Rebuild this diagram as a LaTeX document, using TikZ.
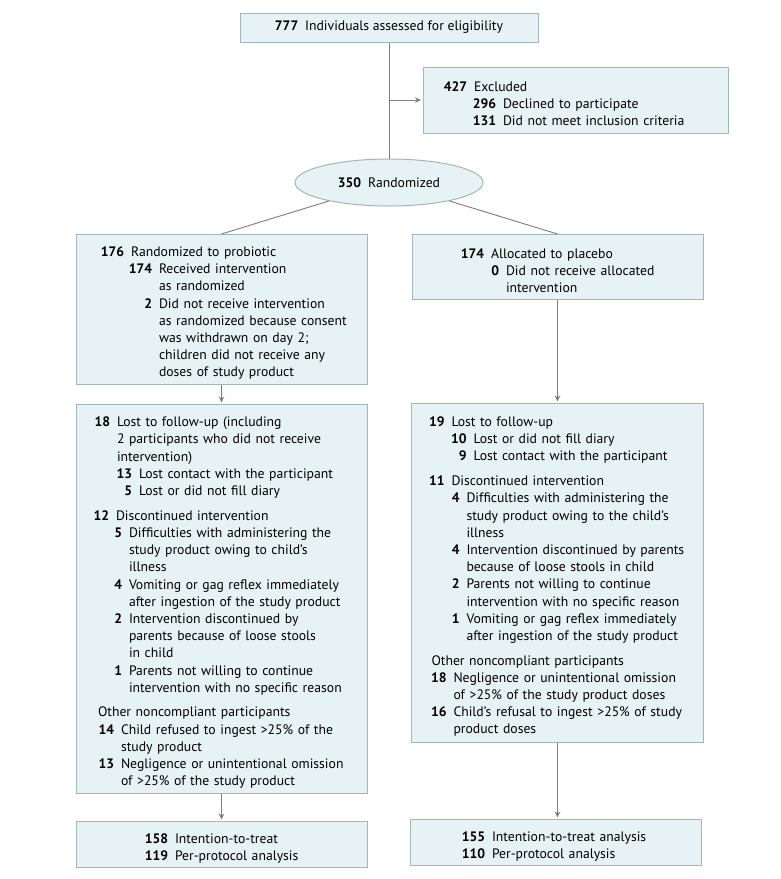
\documentclass[tikz,border=0pt]{standalone}
\usepackage{fontspec}
\setmainfont{PT Sans}
\usetikzlibrary{arrows.meta,positioning,shapes.geometric}
\usepackage{xcolor}

\definecolor{boxfill}{RGB}{230,242,243}
\definecolor{boxline}{RGB}{160,184,187}
\definecolor{linkgray}{RGB}{125,125,125}

% one counted line: hang indent (pt), bold count, text
\newcommand{\nline}[3]{\par{\let\\\newline\hangindent=#1pt\hangafter=0\noindent\llap{\textbf{#2}\hspace{0.5em}}#3\par}}
\newcommand{\grpgap}{\par\vspace{7.5pt}}
\setlength{\parskip}{0.4pt}

\begin{document}
\begin{tikzpicture}[
    x=1pt, y=1pt,
    font=\fontsize{13.7}{17.2}\selectfont,
    box/.style={draw=boxline, fill=boxfill, line width=1pt, inner xsep=0pt, inner ysep=3pt},
    link/.style={draw=linkgray, line width=0.9pt},
    arr/.style={link, -{Stealth[length=6pt, width=5.5pt]}, shorten >=1.5pt}
  ]
    \useasboundingbox (0,0) rectangle (780,-879);

    \node[box, minimum width=298pt, minimum height=29pt, inner xsep=4pt] (elig) at (389,-27.5) {\textbf{777}\hspace{0.5em}Individuals assessed for eligibility};
    \node[box, ellipse, minimum width=188pt, minimum height=47pt, inner sep=0pt, below=116pt of elig] (rand) {\textbf{350}\hspace{0.5em}Randomized};
    \node[box, text width=305pt, minimum height=66pt] (excl) at (575.5,-100) {%
      \nline{51}{427}{Excluded}
      \nline{80}{296}{Declined to participate}
      \nline{80}{131}{Did not meet inclusion criteria}};

    \node[box, text width=291pt, minimum height=150pt, anchor=north] (prob) at (221.5,-234) {%
      \nline{55}{176}{Randomized to probiotic}
      \nline{83}{174}{Received intervention\\as randomized}
      \nline{83}{2}{Did not receive intervention\\as randomized because consent\\was withdrawn on day 2;\\children did not receive any\\doses of study product}};
    \node[box, text width=291pt, minimum height=65pt, anchor=north] (plac) at (557.5,-234) {%
      \nline{79}{174}{Allocated to placebo}
      \nline{94}{0}{Did not receive allocated\\intervention}};

    \node[box, text width=291pt, minimum height=389pt, below=19pt of prob] (lostL) {%
      \nline{41}{18}{Lost to follow-up (including\\2 participants who did not receive\\intervention)}
      \nline{63}{13}{Lost contact with the participant}
      \nline{63}{5}{Lost or did not fill diary}
      \grpgap
      \nline{40}{12}{Discontinued intervention}
      \nline{53}{5}{Difficulties with administering the\\study product owing to child’s\\illness}
      \nline{53}{4}{Vomiting or gag reflex immediately\\after ingestion of the study product}
      \nline{53}{2}{Intervention discontinued by\\parents because of loose stools\\in child}
      \nline{53}{1}{Parents not willing to continue\\intervention with no specific reason}
      \grpgap
      \nline{22}{}{Other noncompliant participants}
      \nline{45}{14}{Child refused to ingest >25\% of the\\study product}
      \nline{45}{13}{Negligence or unintentional omission\\of >25\% of the study product}};
    \node[box, text width=292pt, minimum height=339pt, below=103pt of plac] (lostR) {%
      \nline{40}{19}{Lost to follow-up}
      \nline{62}{10}{Lost or did not fill diary}
      \nline{62}{9}{Lost contact with the participant}
      \grpgap
      \nline{40}{11}{Discontinued intervention}
      \nline{55}{4}{Difficulties with administering the\\study product owing to the child’s\\illness}
      \nline{55}{4}{Intervention discontinued by parents\\because of loose stools in child}
      \nline{55}{2}{Parents not willing to continue\\intervention with no specific reason}
      \nline{55}{1}{Vomiting or gag reflex immediately\\after ingestion of the study product}
      \grpgap
      \nline{20}{}{Other noncompliant participants}
      \nline{42}{18}{Negligence or unintentional omission\\of >25\% of the study product doses}
      \nline{42}{16}{Child’s refusal to ingest >25\% of study\\product doses}};

    \node[box, text width=291pt, minimum height=46pt, below=27pt of lostL] (ittL) {%
      \nline{99}{158}{Intention-to-treat}
      \nline{99}{119}{Per-protocol analysis}};
    \node[box, text width=291pt, minimum height=46pt, anchor=north] (ittR) at (555.5,-819) {%
      \nline{82}{155}{Intention-to-treat analysis}
      \nline{82}{110}{Per-protocol analysis}};

    \draw[link] (elig) -- (rand);
    \draw[arr] (elig.south |- excl.west) -- (excl.west);
    \draw[link] (rand) -- (prob.north);
    \draw[link] (rand) -- (plac.north);
    \draw[arr] (prob) -- (lostL);
    \draw[arr] (plac.south) -- (lostR.north);
    \draw[arr] (lostL) -- (ittL);
    \draw[arr] (lostR.south) -- (lostR.south |- ittR.north);
  \end{tikzpicture}
\end{document}
